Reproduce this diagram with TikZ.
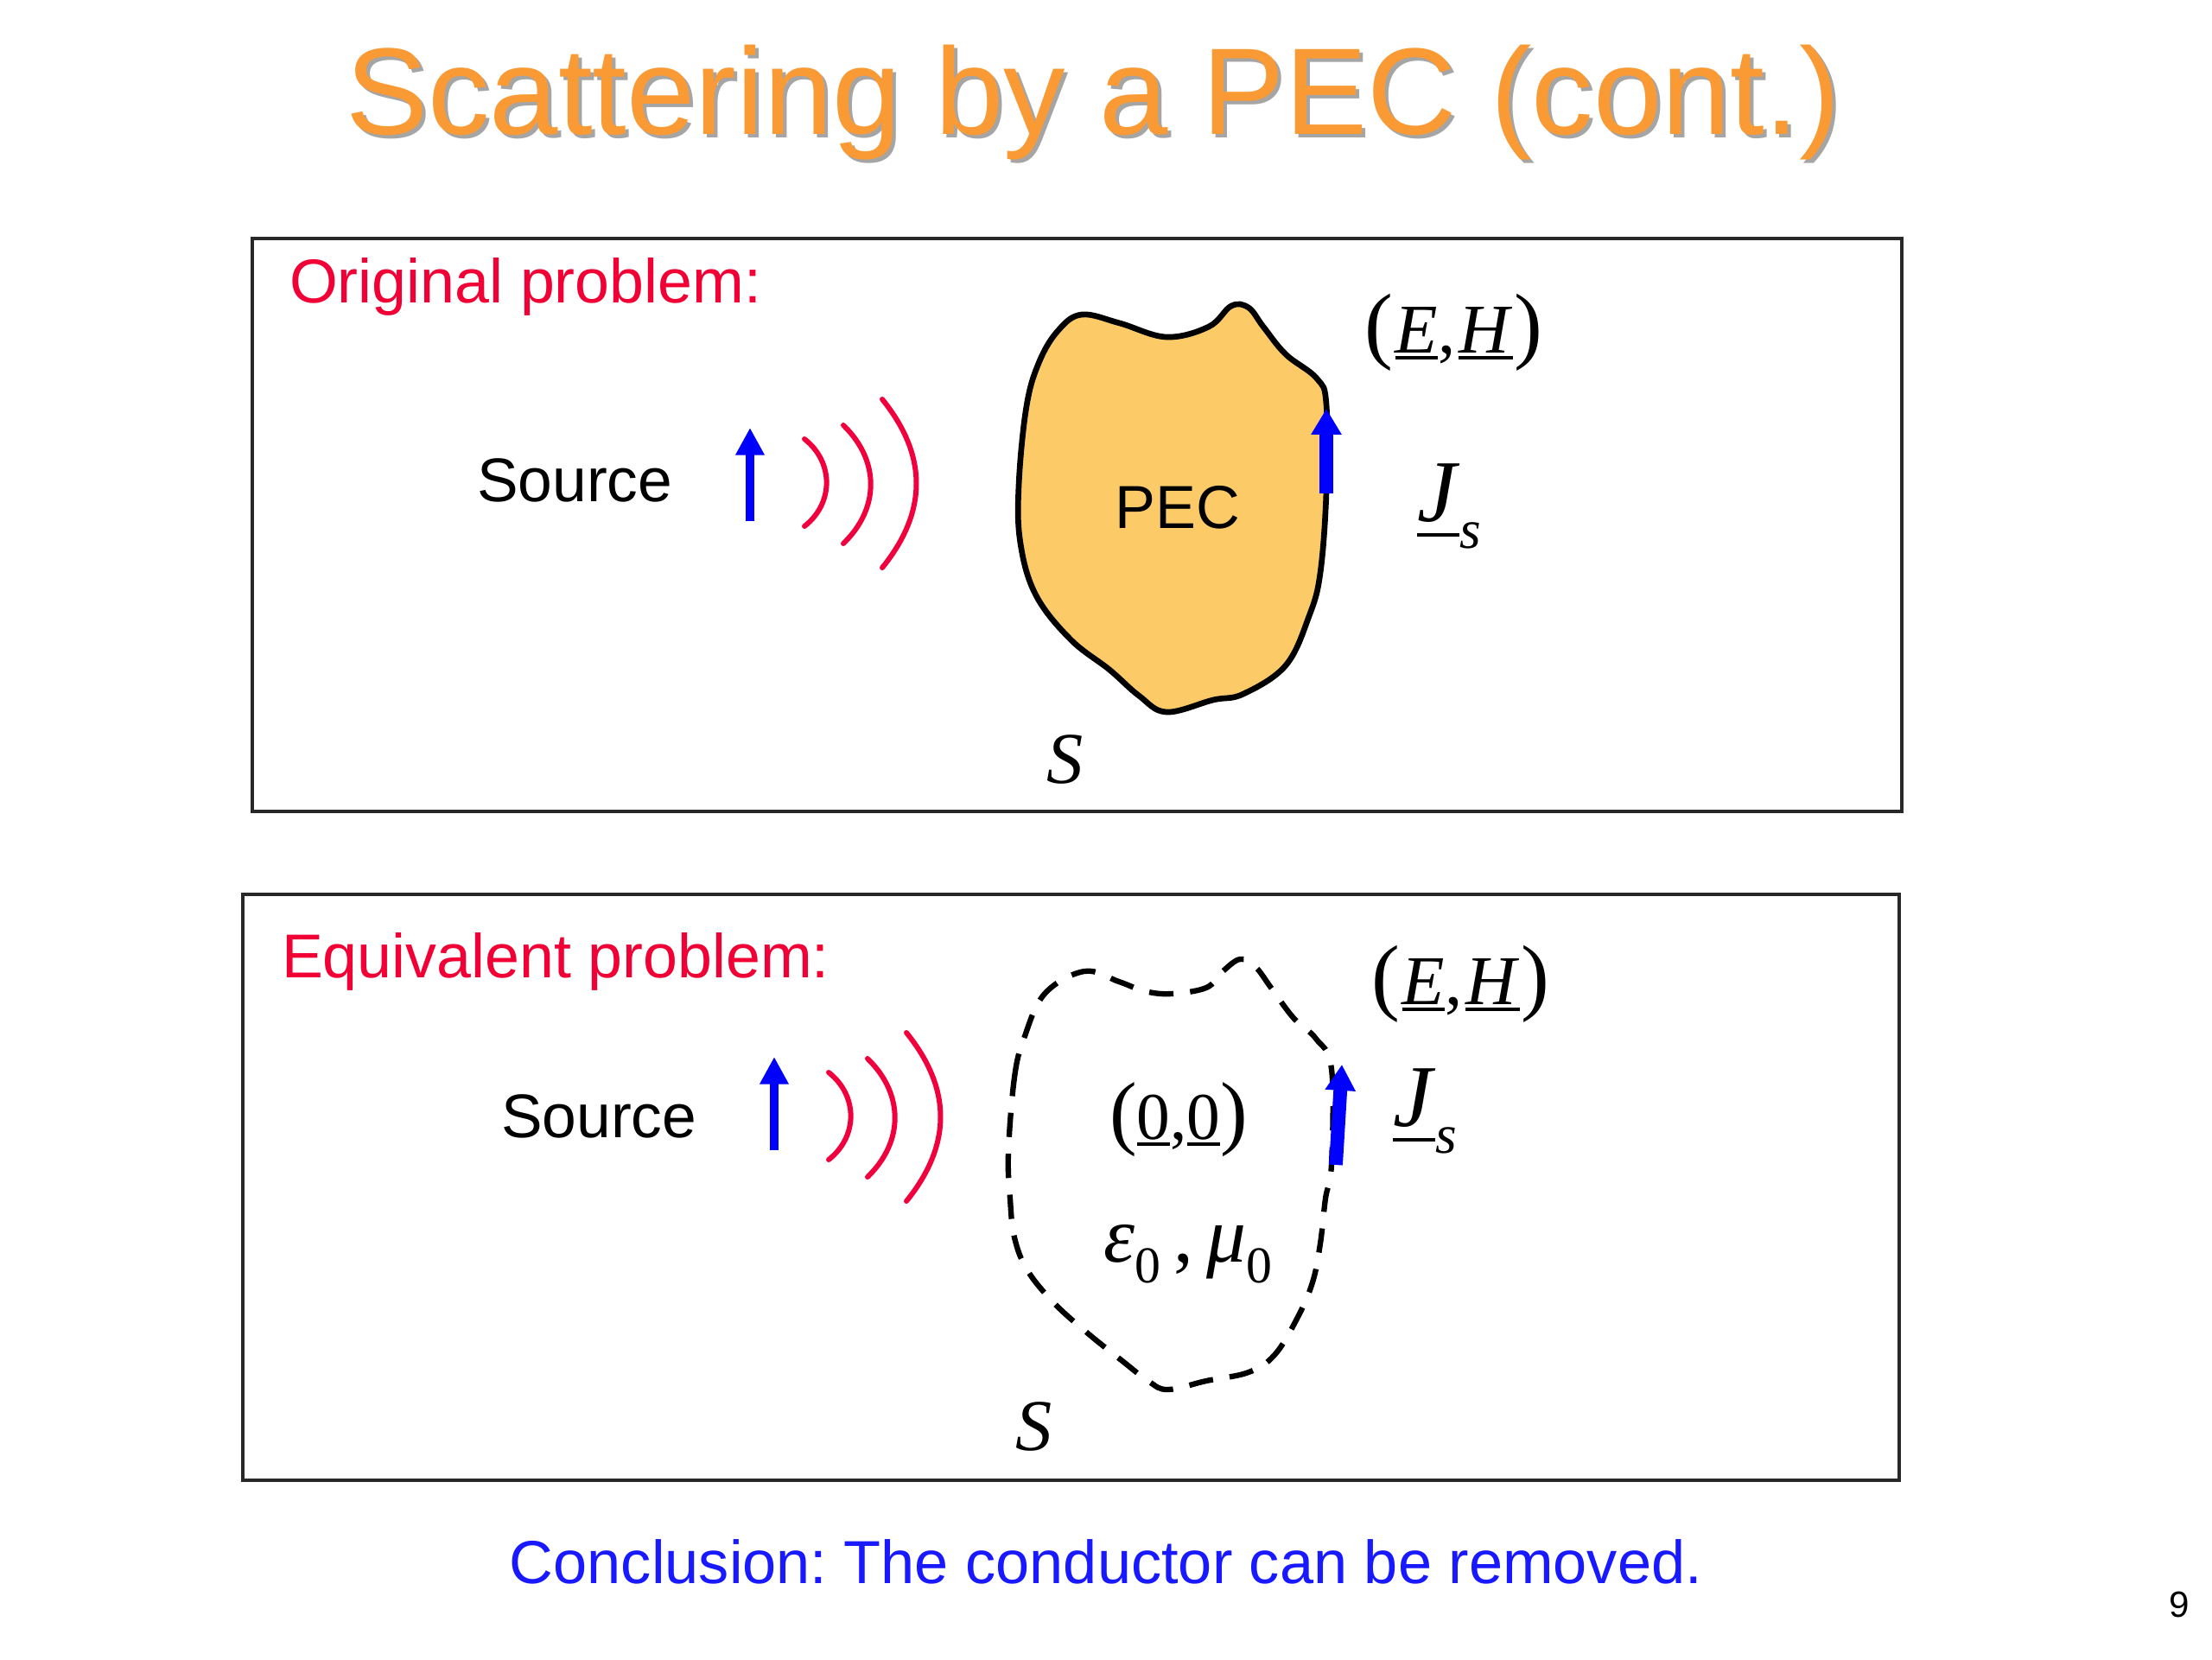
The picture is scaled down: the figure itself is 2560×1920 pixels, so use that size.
\documentclass[tikz,border=0pt]{standalone}
\usepackage{fontspec}
\setmainfont{Liberation Sans}
\newfontfamily\serifmath{Liberation Serif}
\usetikzlibrary{arrows.meta}
\frenchspacing
\definecolor{titleorange}{RGB}{250,154,52}
\definecolor{shadowgray}{RGB}{165,165,165}
\definecolor{labelred}{RGB}{240,0,52}
\definecolor{wavered}{RGB}{240,0,60}
\definecolor{pecfill}{RGB}{253,202,104}
\definecolor{srcblue}{RGB}{0,0,255}
\definecolor{conclblue}{RGB}{25,25,255}
\definecolor{framegray}{RGB}{40,40,40}
\newcommand{\lowsub}[3][-5pt]{\raisebox{#1}{\fontsize{#2}{#2}\selectfont #3}}
\newcommand{\bigparen}[2][28]{{\fontsize{#1}{#1}\selectfont #2}}
\newcommand{\ulbar}[2][-2.2pt]{{\setbox0\hbox{#2}\rlap{\rule[#1]{\wd0}{0.95pt}}\box0}}
\begin{document}
\begin{tikzpicture}[x=0.01cm,y=-0.01cm,
  every node/.style={inner sep=0pt,outer sep=0pt},
  titletext/.style={font=\fontsize{40.6}{48}\selectfont,anchor=base west},
  probtitle/.style={text=labelred,font=\fontsize{20.4}{24}\selectfont,anchor=base west},
  srclabel/.style={font=\fontsize{20.3}{24}\selectfont,anchor=base west},
  mathlbl/.style={font=\serifmath\fontsize{23}{28}\selectfont},
  bigmath/.style={font=\serifmath\fontsize{29}{32}\selectfont},
  wave/.style={draw=wavered,line width=1.7pt,line cap=round},
  srcarrow/.style={draw=srcblue,line width=3pt,-{Triangle[length=9pt,width=9pt]}},
  curarrow/.style={draw=srcblue,line width=4.5pt,-{Triangle[length=8.5pt,width=9.5pt]}},
  framebox/.style={draw=framegray,line width=0.9pt},
  pecshape/.style={fill=pecfill,draw=black,line width=1.9pt},
  virtshape/.style={draw=black,line width=1.8pt,dash pattern=on 8pt off 5.5pt}]
\useasboundingbox (0,0) rectangle (2560,1920);
\fill[white] (0,0) rectangle (2560,1920);

% title
\node[titletext,text=shadowgray] (titleshadow) at (404,159) {Scattering by a PEC (cont.)};
\node[titletext,text=titleorange] (title) at (400,155) {Scattering by a PEC (cont.)};

% frames
\draw[framebox] (292,276) rectangle (2201,939);
\draw[framebox] (281,1035) rectangle (2198,1713);

% ---------- original problem ----------
\node[probtitle] (origlbl) at (335,350) {Original problem:};
\node[srclabel] (src1) at (552,580) {Source};
\draw[srcarrow] (868,603) -- (868,495);
\draw[wave] (931,508) to[bend left=52,looseness=1.1] (931,609);
\draw[wave] (976,492) to[bend left=46,looseness=1.1] (976,629);
\draw[wave] (1021,462) to[bend left=39,looseness=1.1] (1021,657);

\draw[pecshape] plot[smooth cycle,tension=0.62] coordinates {
 (1179,562) (1188,470) (1203,418) (1225,382) (1252,364) (1296,374)
 (1350,390) (1399,378) (1425,354) (1445,356) (1462,378) (1488,410)
 (1524,438) (1535,468) (1535,569) (1528,663) (1515,713) (1488,770)
 (1439,803) (1404,810) (1350,824) (1318,805) (1284,775) (1239,740)
 (1199,689) (1181,629)};
\node[font=\fontsize{20}{24}\selectfont,anchor=base] (peclbl) at (1363,611) {PEC};
\draw[curarrow] (1535,571) -- (1535,473);

\node[mathlbl,anchor=base west] (eh1) at (1579,408)
  {\bigparen{(}\kern0.8pt\ulbar{\textit{E}},\kern1.2pt\ulbar{\textit{H}}\kern0.5pt\bigparen{)}};
\node[bigmath,anchor=base west] (js1) at (1640,603)
  {\ulbar[-5pt]{\textit{J}}\lowsub[-9pt]{18}{\textit{s}}};
\node[mathlbl,font=\serifmath\fontsize{24}{28}\selectfont,anchor=base] (s1) at (1233,906) {\textit{S}};

% ---------- equivalent problem ----------
\node[probtitle] (equivlbl) at (326,1131) {Equivalent problem:};
\node[srclabel] (src2) at (580,1316) {Source};
\draw[srcarrow] (896,1331) -- (896,1223);
\draw[wave] (959,1241) to[bend left=52,looseness=1.1] (959,1342);
\draw[wave] (1004,1225) to[bend left=46,looseness=1.1] (1004,1362);
\draw[wave] (1049,1195) to[bend left=39,looseness=1.1] (1049,1390);

\draw[virtshape] plot[smooth cycle,tension=0.62] coordinates {
 (1167,1334) (1174,1247) (1185,1202) (1209,1150) (1255,1124) (1295,1136)
 (1325,1147) (1356,1150) (1396,1143) (1413,1126) (1435,1110) (1453,1119)
 (1471,1143) (1497,1178) (1523,1202) (1541,1237) (1541,1347) (1534,1387)
 (1528,1439) (1519,1484) (1501,1526) (1475,1568) (1445,1588) (1396,1598)
 (1352,1608) (1330,1599) (1299,1575) (1259,1543) (1220,1508) (1189,1470)
 (1174,1432) (1169,1387)};
\draw[curarrow] (1546,1348) -- (1553,1232);

\node[mathlbl,font=\serifmath\fontsize{22}{28}\selectfont,anchor=base west] (zero) at (1284,1318)
  {\bigparen[27]{(}\ulbar{0},\ulbar{0}\bigparen[27]{)}};
\node[mathlbl,font=\serifmath\fontsize{26}{28}\selectfont,anchor=base west] (epsmu) at (1277,1460)
  {\textit{ε}\lowsub[-7pt]{17}{0}\,,\,\textit{μ}\lowsub[-7pt]{17}{0}};
\node[mathlbl,anchor=base west] (eh2) at (1587,1162)
  {\bigparen{(}\kern0.8pt\ulbar{\textit{E}},\kern1.2pt\ulbar{\textit{H}}\kern0.5pt\bigparen{)}};
\node[bigmath,anchor=base west] (js2) at (1612,1303)
  {\ulbar[-5pt]{\textit{J}}\lowsub[-9pt]{18}{\textit{s}}};
\node[mathlbl,font=\serifmath\fontsize{24}{28}\selectfont,anchor=base] (s2) at (1197,1678) {\textit{S}};

% conclusion and page number
\node[font=\fontsize{20}{24}\selectfont,text=conclblue,anchor=base] (concl) at (1280,1832)
  {Conclusion: The conductor can be removed.};
\node[font=\fontsize{12}{14}\selectfont,anchor=base] (pagenum) at (2522,1871) {9};
\end{tikzpicture}
\end{document}
